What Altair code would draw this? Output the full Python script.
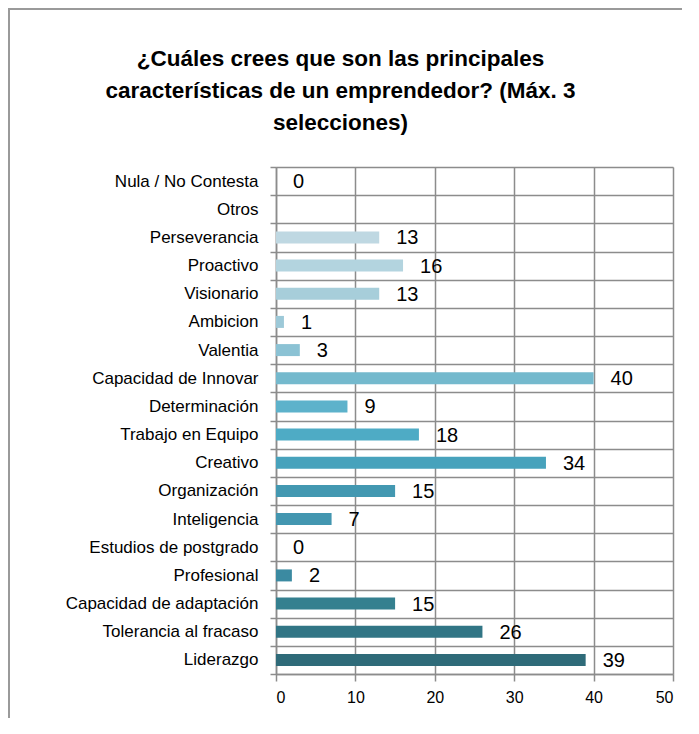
import altair as alt
import pandas as pd

categories = [
    "Nula / No Contesta", "Otros", "Perseverancia", "Proactivo", "Visionario",
    "Ambicion", "Valentia", "Capacidad de Innovar", "Determinación",
    "Trabajo en Equipo", "Creativo", "Organización", "Inteligencia",
    "Estudios de postgrado", "Profesional", "Capacidad de adaptación",
    "Tolerancia al fracaso", "Liderazgo",
]
values = [0, None, 13, 16, 13, 1, 3, 40, 9, 18, 34, 15, 7, 0, 2, 15, 26, 39]
x_ticks = [0, 10, 20, 30, 40, 50]

bar_colors = [
    "#c6dde6", "#c3dbe5", "#bfd8e2", "#b3d4df", "#a7ceda", "#9dc9d8",
    "#8bc2d4", "#74b9cd", "#5db2cb", "#4eabc5", "#47a2bc", "#4398b1",
    "#4396b0", "#3e8fa8", "#3b8aa1", "#35808f", "#317585", "#2f6b79",
]

df = pd.DataFrame({"cat": categories, "value": values})

FONT = "Liberation Sans"
GRID = "#8c8c8c"

y_scale = alt.Scale(domain=categories, paddingInner=0, paddingOuter=0)
y_enc = alt.Y(
    "cat:N",
    sort=categories,
    scale=y_scale,
    axis=alt.Axis(
        title=None, tickBand="extent", grid=True, gridColor=GRID, gridWidth=1.5,
        tickColor=GRID, tickWidth=1.5, tickSize=6, domainColor=GRID, domainWidth=1.5,
        labelFont=FONT, labelFontSize=17, labelColor="#000000", labelPadding=12,
        labelLimit=300,
    ),
)
x_scale = alt.Scale(domain=[0, 50], nice=False)
x_enc = alt.X(
    "value:Q",
    scale=x_scale,
    axis=alt.Axis(
        title=None, values=x_ticks, grid=True, gridColor=GRID, gridWidth=1.5,
        tickColor=GRID, tickWidth=1.5, tickSize=7, domainColor=GRID, domainWidth=1.5,
        labelFont=FONT, labelFontSize=16, labelColor="#000000", labelPadding=8,
    ),
)

bars = alt.Chart(df).mark_bar(size=12).encode(
    y=y_enc,
    x=x_enc,
    color=alt.Color("cat:N", scale=alt.Scale(domain=categories, range=bar_colors), legend=None),
).transform_filter("isValid(datum.value)")

labels = alt.Chart(df).mark_text(
    align="left", baseline="middle", dx=17, dy=1, font=FONT, fontSize=20, color="#000000"
).encode(
    y=alt.Y("cat:N", sort=categories, scale=y_scale),
    x=alt.X("value:Q", scale=x_scale),
    text=alt.Text("value:Q", format="d"),
).transform_filter("isValid(datum.value)")

frame_data = alt.Data(values=[{"k": 1}])
frame = alt.Chart(frame_data).mark_rect(
    filled=False, stroke="#9a9a9a", strokeWidth=2
).encode(
    x=alt.value(-267), x2=alt.value(900), y=alt.value(-158), y2=alt.value(900)
)

chart = alt.layer(frame, bars, labels).properties(
    width=397,
    height=507,
    title=alt.TitleParams(
        text=["¿Cuáles crees que son las principales",
              "características de un emprendedor? (Máx. 3",
              "selecciones)"],
        font=FONT, fontSize=22.5, fontWeight="bold", color="#000000",
        anchor="middle", dx=-134, lineHeight=32, offset=0, dy=144,
        baseline="alphabetic",
    ),
    autosize=alt.AutoSizeParams(type="none"),
    padding={"left": 268, "top": 159, "right": 9, "bottom": 44},
).configure_view(strokeWidth=0).configure(background="#ffffff")

chart.save("out.html", embed_options={"renderer": "svg", "actions": False})
